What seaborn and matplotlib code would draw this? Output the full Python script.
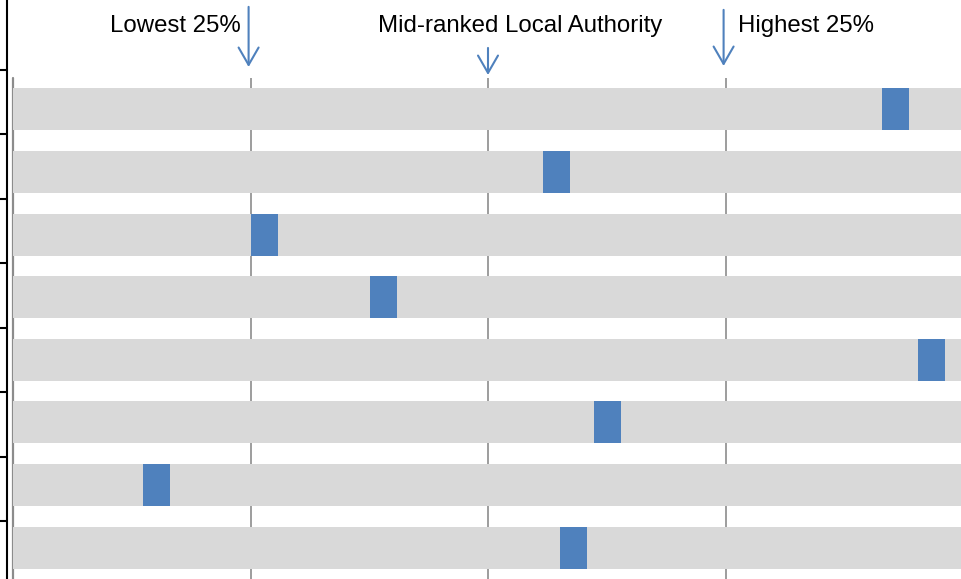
import matplotlib
matplotlib.use("Agg")

import matplotlib.pyplot as plt
import pandas as pd
import seaborn as sns

# ── Data ────────────────────────────────────────────────────────
rows = ["R1", "R2", "R3", "R4", "R5", "R6", "R7", "R8"]
rank_pct = [91.5, 55.8, 25.0, 37.6, 95.3, 61.2, 13.65, 57.6]  # left edge of marker
marker_width = 2.85
full_range = 100
quartiles = [0, 25, 50, 75, 100]
left_ticks = [1, 2, 3, 4, 5, 6, 7, 8]

labels = ["Lowest 25%", "Mid-ranked Local Authority", "Highest 25%"]
label_x = [24.0, 53.4, 76.3]
label_ha = ["right", "center", "left"]
arrow_x = [24.8, 50.0, 74.8]
arrow_top = [1.142, 1.060, 1.136]
arrow_tip = [1.022, 1.006, 1.024]

GREY = "#D9D9D9"
BLUE = "#4F81BD"

df = pd.DataFrame({
    "row": rows,
    "full": [full_range] * len(rows),
    "start": rank_pct,
    "end": [p + marker_width for p in rank_pct],
})

sns.set_style("white")
plt.rcParams["font.family"] = ["Liberation Sans", "DejaVu Sans"]

fig = plt.figure(figsize=(9.61, 5.79), dpi=100)
ax = fig.add_axes([13 / 961, 0, 950 / 961, 501 / 579])

# layered bars: grey background, blue up to marker end, grey up to marker start
bh = 0.67
sns.barplot(data=df, x="full", y="row", color=GREY, width=bh, ax=ax,
            saturation=1, linewidth=0, zorder=2)
sns.barplot(data=df, x="end", y="row", color=BLUE, width=bh, ax=ax,
            saturation=1, linewidth=0, zorder=3)
sns.barplot(data=df, x="start", y="row", color=GREY, width=bh, ax=ax,
            saturation=1, linewidth=0, zorder=4)

ax.set_xlim(0, full_range)
ax.set_ylim(len(rows) - 0.5, -0.5)
ax.set_xticks(quartiles)
ax.set_yticks([])
ax.set_xticklabels([])
ax.set_xlabel("")
ax.set_ylabel("")
ax.tick_params(axis="x", length=0)
ax.grid(axis="x", color="#8C8C8C", linewidth=1.2, zorder=0)
ax.grid(axis="y", visible=False)
ax.set_axisbelow(True)
for s in ax.spines.values():
    s.set_visible(False)
ax.axvline(quartiles[0], color="#8C8C8C", linewidth=1.6, zorder=1, clip_on=False)

# top annotations
trans = ax.get_xaxis_transform()
for txt, x, ha in zip(labels, label_x, label_ha):
    ax.text(x, 1.092, txt, transform=trans, ha=ha, va="baseline",
            fontsize=17.3, color="black", clip_on=False)
for x, y0, y1 in zip(arrow_x, arrow_top, arrow_tip):
    ax.annotate("", xy=(x, y1), xytext=(x, y0), xycoords=trans, textcoords=trans,
                annotation_clip=False,
                arrowprops=dict(arrowstyle="->,head_length=1.25,head_width=0.72",
                                color=BLUE, lw=1.5, mutation_scale=10,
                                shrinkA=0, shrinkB=0))

# left black axis from the neighbouring table
lax = fig.add_axes([0, 0, 7 / 961, 1])
lax.set_xlim(0, 1)
lax.set_ylim(1 + 509 / 64.43, 1 - 70 / 64.43)
lax.set_xticks([])
lax.set_yticks(left_ticks)
lax.set_yticklabels([])
lax.yaxis.tick_right()
lax.tick_params(axis="y", direction="in", length=5.5, width=1.5, color="black")
for name, s in lax.spines.items():
    s.set_visible(name == "right")
lax.spines["right"].set_color("black")
lax.spines["right"].set_linewidth(1.5)
lax.patch.set_alpha(0)

fig.savefig("out.png", dpi=100)
